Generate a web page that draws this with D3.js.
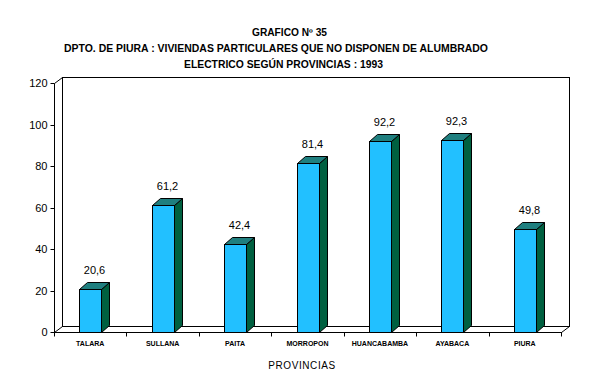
<!DOCTYPE html>
<html>
<head>
<meta charset="utf-8">
<script src="https://cdn.jsdelivr.net/npm/d3@7"></script>
<style>
  body { margin: 0; background: #fff; }
  svg { display: block; }
</style>
</head>
<body>
<div id="chart"></div>
<script>
// data
const provincias = ['TALARA', 'SULLANA', 'PAITA', 'MORROPON', 'HUANCABAMBA', 'AYABACA', 'PIURA'];
const valores = [20.6, 61.2, 42.4, 81.4, 92.2, 92.3, 49.8];
const yTicks = [0, 20, 40, 60, 80, 100, 120];
const titulos = ['GRAFICO Nº 35',
  'DPTO. DE PIURA : VIVIENDAS PARTICULARES QUE NO DISPONEN DE ALUMBRADO',
  'ELECTRICO SEGÚN PROVINCIAS : 1993'];

let width = 591, height = 376;
let pLeft = 54, pRight = 561, pTop = 83, pBottom = 332;
let dx = 8, dy = -6;       // depth of the back wall
let bdx = 8, bdy = -7;     // depth of each bar

let svg = d3.select('#chart').append('svg')
  .attr('width', width)
  .attr('height', height);

// titles: [start x, baseline, width]
let tPos = [[252, 36, 75], [64, 52, 424], [184, 68, 199]];
titulos.forEach(function(t, i) {
  svg.append('text')
    .attr('x', tPos[i][0]).attr('y', tPos[i][1])
    .attr('textLength', tPos[i][2])
    .attr('lengthAdjust', 'spacingAndGlyphs')
    .style('font-family', 'Liberation Sans, Arial, sans-serif')
    .style('font-weight', 'bold')
    .style('font-size', '10px')
    .text(t);
});

let x = d3.scaleBand().domain(provincias).range([pLeft, pRight]).paddingInner(0).paddingOuter(0);
let y = d3.scaleLinear().domain([0, 120]).range([pBottom, pTop]);

// back wall and floor
let g = svg.append('g').attr('fill', 'none').attr('stroke', '#000').attr('stroke-width', 1)
  .attr('shape-rendering', 'crispEdges');
g.append('rect')
  .attr('x', pLeft + dx + 0.5).attr('y', pTop + dy + 0.5)
  .attr('width', pRight - pLeft).attr('height', pBottom - pTop);
g.append('line').attr('x1', pLeft + 0.5).attr('y1', pTop + 0.5).attr('x2', pLeft + dx + 0.5).attr('y2', pTop + dy + 0.5)
  .attr('shape-rendering', 'auto');
g.append('line').attr('x1', pLeft + 0.5).attr('y1', pBottom + 0.5).attr('x2', pLeft + dx + 0.5).attr('y2', pBottom + dy + 0.5)
  .attr('shape-rendering', 'auto');
g.append('line').attr('x1', pRight + 0.5).attr('y1', pBottom + 0.5).attr('x2', pRight + dx + 0.5).attr('y2', pBottom + dy + 0.5)
  .attr('shape-rendering', 'auto');

// bars
let bw = 22;
let bars = svg.append('g').attr('stroke', '#000').attr('stroke-width', 1).attr('stroke-linejoin', 'miter');
provincias.forEach(function(p, i) {
  let x0 = Math.round(x(p) + x.bandwidth() / 2 - bw / 2) + 0.5;
  let y0 = Math.round(y(valores[i])) + 0.5;
  let y1 = pBottom + 0.5;
  // side
  bars.append('path')
    .attr('d', `M${x0 + bw},${y0}L${x0 + bw + bdx},${y0 + bdy}L${x0 + bw + bdx},${y1 + bdy}L${x0 + bw},${y1}Z`)
    .attr('fill', '#006040');
  // top
  bars.append('path')
    .attr('d', `M${x0},${y0}L${x0 + bdx},${y0 + bdy}L${x0 + bw + bdx},${y0 + bdy}L${x0 + bw},${y0}Z`)
    .attr('fill', '#1f7f7f');
  // front
  bars.append('rect')
    .attr('x', x0).attr('y', y0).attr('width', bw).attr('height', y1 - y0)
    .attr('fill', '#22c0ff');
  // value label
  svg.append('text')
    .attr('x', x0 + bw / 2 + bdx / 2).attr('y', y0 + bdy - 9)
    .attr('text-anchor', 'middle')
    .style('font-family', 'Liberation Sans, Arial, sans-serif')
    .style('font-size', '11px')
    .text(d3.format('.1f')(valores[i]).replace('.', ','));
});

// y axis
let yAxis = svg.append('g')
  .attr('transform', `translate(${pLeft + 0.5},0)`)
  .call(d3.axisLeft(y).tickValues(yTicks).tickSize(4).tickPadding(3).tickFormat(d3.format('d')));
yAxis.select('.domain').attr('d', `M0,${pTop + 0.5}V${pBottom + 0.5}`);
yAxis.selectAll('.tick').attr('transform', function(d) { return `translate(0,${Math.round(y(d)) + 0.5})`; });
yAxis.selectAll('text')
  .style('font-family', 'Liberation Sans, Arial, sans-serif')
  .style('font-size', '11px')
  .attr('fill', '#000');

// x axis
let xAxis = svg.append('g')
  .attr('transform', `translate(0,${pBottom + 0.5})`)
  .call(d3.axisBottom(x).tickSize(0).tickPadding(9));
xAxis.select('.domain').attr('d', `M${pLeft},0H${pRight + 1}`);
xAxis.selectAll('text')
  .style('font-family', 'Liberation Sans, Arial, sans-serif')
  .style('font-weight', 'bold')
  .style('font-size', '7px')
  .attr('fill', '#000');
let bounds = provincias.map(function(p) { return x(p); }).concat([pRight]);
xAxis.selectAll('.sep').data(bounds).enter().append('line')
  .attr('x1', function(d) { return Math.round(d) + 0.5; })
  .attr('x2', function(d) { return Math.round(d) + 0.5; })
  .attr('y1', 0).attr('y2', 4)
  .attr('stroke', '#000');

svg.append('text')
  .attr('x', 302).attr('y', 369)
  .attr('text-anchor', 'middle')
  .style('font-family', 'Liberation Sans, Arial, sans-serif')
  .style('font-size', '10px')
  .style('letter-spacing', '0.6px')
  .text('PROVINCIAS');
</script>
</body>
</html>
